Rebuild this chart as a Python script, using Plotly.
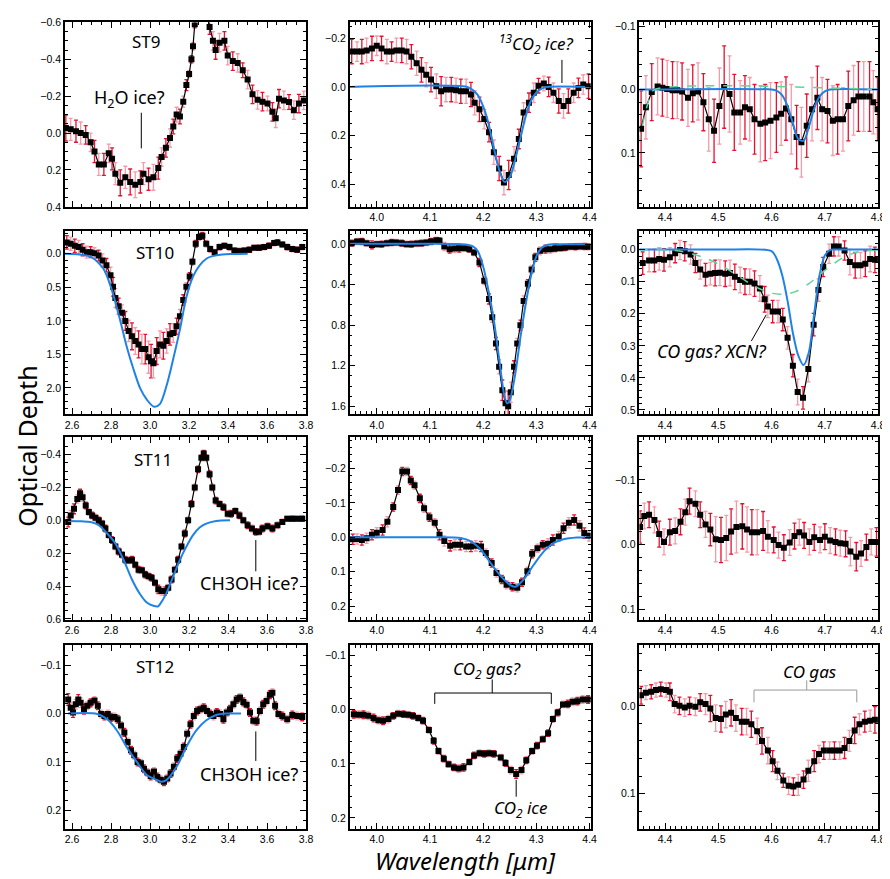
import plotly.graph_objects as go
from plotly.subplots import make_subplots

# ---------------- data: ST9 ----------------
st9_h2o_x = [2.568, 2.593, 2.62, 2.644, 2.67, 2.695, 2.715, 2.737, 2.763, 2.788, 2.805, 2.822, 2.847, 2.873, 2.898,
             2.924, 2.95, 2.966, 2.992, 3.017, 3.042, 3.059, 3.081, 3.102, 3.119, 3.136, 3.153, 3.17, 3.186, 3.2,
             3.212, 3.22, 3.229, 3.245, 3.265, 3.285, 3.305, 3.322, 3.336, 3.356, 3.381, 3.398, 3.424, 3.449, 3.475,
             3.5, 3.525, 3.551, 3.576, 3.602, 3.627, 3.644, 3.661, 3.686, 3.712, 3.737, 3.763, 3.788]
st9_h2o_tau = [-0.027, -0.02, -0.01, 0.0, 0.01, 0.05, 0.1, 0.17, 0.17, 0.11, 0.14, 0.22, 0.27, 0.24, 0.265,
               0.28, 0.265, 0.22, 0.25, 0.24, 0.19, 0.13, 0.08, 0.027, -0.035, -0.1, -0.09, -0.17, -0.26, -0.32,
               -0.4, -0.47, -0.59, -0.7, -0.74, -0.68, -0.575, -0.5, -0.45, -0.49, -0.5, -0.42, -0.39, -0.38, -0.34,
               -0.29, -0.21, -0.18, -0.17, -0.16, -0.115, -0.08, -0.186, -0.177, -0.168, -0.124, -0.16, -0.177]
st9_h2o_err = [0.07, 0.06, 0.06, 0.06, 0.05, 0.05, 0.06, 0.06, 0.06, 0.05, 0.06, 0.06, 0.07, 0.06, 0.07,
               0.07, 0.06, 0.06, 0.06, 0.07, 0.06, 0.05, 0.05, 0.05, 0.04, 0.04, 0.04, 0.03, 0.03, 0.02,
               0.02, 0.02, 0.02, 0.02, 0.02, 0.02, 0.04, 0.05, 0.05, 0.05, 0.05, 0.05, 0.05, 0.05, 0.04,
               0.05, 0.05, 0.05, 0.05, 0.04, 0.05, 0.05, 0.05, 0.05, 0.04, 0.05, 0.05, 0.05]

st9_co2_x = [3.953, 3.963, 3.972, 3.981, 3.991, 4.0, 4.009, 4.019, 4.028, 4.037, 4.047, 4.056, 4.065, 4.075, 4.084,
             4.093, 4.102, 4.112, 4.121, 4.13, 4.14, 4.149, 4.158, 4.168, 4.177, 4.184, 4.193, 4.202, 4.211, 4.22,
             4.23, 4.239, 4.248, 4.258, 4.267, 4.276, 4.286, 4.295, 4.304, 4.314, 4.323, 4.332, 4.342, 4.351, 4.36,
             4.37, 4.379, 4.388, 4.398]
st9_co2_tau = [-0.145, -0.145, -0.145, -0.15, -0.158, -0.169, -0.158, -0.145, -0.145, -0.15, -0.15, -0.145, -0.124,
               -0.097, -0.07, -0.05, -0.03, -0.003, 0.018, 0.011, 0.011, 0.014, 0.018, 0.018, 0.031, 0.065, 0.092,
               0.132, 0.186, 0.268, 0.335, 0.393, 0.362, 0.295, 0.214, 0.105, 0.065, 0.024, -0.005, -0.014, 0.0,
               0.024, 0.058, 0.078, 0.058, 0.024, 0.004, -0.01, -0.003]
st9_co2_err = [0.05, 0.04, 0.05, 0.05, 0.05, 0.04, 0.05, 0.05, 0.04, 0.05, 0.05, 0.05, 0.05, 0.05, 0.05,
               0.05, 0.05, 0.05, 0.06, 0.05, 0.05, 0.05, 0.05, 0.05, 0.05, 0.05, 0.05, 0.04, 0.04, 0.05,
               0.05, 0.05, 0.06, 0.05, 0.04, 0.04, 0.04, 0.04, 0.03, 0.03, 0.04, 0.04, 0.05, 0.05, 0.05,
               0.04, 0.04, 0.04, 0.05]
st9_co2_fit_x = [3.95, 4.17, 4.18, 4.19, 4.2, 4.21, 4.22, 4.23, 4.24, 4.25, 4.26, 4.27, 4.28, 4.29, 4.3, 4.31, 4.32, 4.4]
st9_co2_fit = [0.0, 0.0, 0.012, 0.034, 0.08, 0.15, 0.25, 0.34, 0.39, 0.37, 0.3, 0.21, 0.12, 0.057, 0.023, 0.007, 0.0, 0.0]

st9_co_x = [4.355, 4.364, 4.375, 4.386, 4.395, 4.404, 4.414, 4.423, 4.432, 4.443, 4.452, 4.462, 4.472, 4.482, 4.492,
            4.502, 4.511, 4.521, 4.53, 4.541, 4.55, 4.559, 4.568, 4.579, 4.588, 4.598, 4.609, 4.618, 4.627, 4.637,
            4.647, 4.656, 4.666, 4.676, 4.686, 4.695, 4.705, 4.715, 4.724, 4.734, 4.744, 4.754, 4.763, 4.773, 4.784,
            4.791, 4.799]
st9_co_tau = [0.062, 0.028, 0.004, -0.005, -0.003, -0.001, 0.001, 0.001, 0.003, 0.013, 0.006, 0.003, 0.02, 0.047,
              0.065, 0.026, -0.004, 0.007, 0.036, 0.036, 0.028, 0.031, 0.047, 0.054, 0.052, 0.049, 0.044, 0.038,
              0.03, 0.047, 0.075, 0.083, 0.057, 0.031, 0.013, 0.031, 0.034, 0.049, 0.047, 0.047, 0.026, 0.017,
              0.011, 0.011, 0.011, 0.02, 0.031]
st9_co_err = [0.06, 0.05, 0.045, 0.045, 0.045, 0.045, 0.045, 0.045, 0.045, 0.045, 0.045, 0.045, 0.045, 0.05, 0.05,
              0.06, 0.065, 0.06, 0.06, 0.05, 0.05, 0.05, 0.055, 0.06, 0.06, 0.06, 0.055, 0.05, 0.05, 0.055,
              0.05, 0.055, 0.05, 0.05, 0.05, 0.05, 0.05, 0.055, 0.055, 0.05, 0.055, 0.055, 0.055, 0.055, 0.055,
              0.05, 0.05]
st9_co_fit_x = [4.35, 4.6, 4.61, 4.62, 4.63, 4.64, 4.65, 4.66, 4.67, 4.68, 4.69, 4.7, 4.71, 4.8]
st9_co_fit = [0.0, 0.0, 0.002, 0.009, 0.026, 0.053, 0.078, 0.081, 0.059, 0.03, 0.011, 0.003, 0.0, 0.0]
st9_broad_x = [4.35, 4.358, 4.365, 4.372, 4.38, 4.8]
st9_broad = [0.085, 0.055, 0.03, 0.01, 0.0, 0.0]

# ---------------- data: ST10 ----------------
st10_h2o_x = [2.573, 2.593, 2.614, 2.634, 2.654, 2.675, 2.695, 2.715, 2.736, 2.756, 2.776, 2.797, 2.81, 2.822, 2.839,
              2.856, 2.873, 2.89, 2.907, 2.924, 2.941, 2.958, 2.975, 2.992, 3.005, 3.017, 3.034, 3.051, 3.068, 3.085,
              3.102, 3.119, 3.136, 3.153, 3.17, 3.186, 3.203, 3.217, 3.234, 3.251, 3.268, 3.288, 3.308, 3.331, 3.356,
              3.381, 3.407, 3.432, 3.458, 3.483, 3.508, 3.534, 3.559, 3.585, 3.61, 3.636, 3.653, 3.678, 3.703, 3.729,
              3.754, 3.78]
st10_h2o_tau = [-0.17, -0.15, -0.12, -0.1, -0.06, -0.025, -0.025, -0.01, 0.025, 0.1, 0.17, 0.32, 0.49, 0.66, 0.78,
                0.88, 1.0, 1.15, 1.23, 1.3, 1.35, 1.42, 1.42, 1.54, 1.6, 1.63, 1.45, 1.35, 1.37, 1.3,
                1.2, 1.18, 1.08, 0.93, 0.69, 0.49, 0.34, 0.12, -0.15, -0.25, -0.27, -0.15, -0.07, -0.025, -0.1,
                -0.12, -0.1, -0.05, -0.04, -0.05, -0.06, -0.09, -0.09, -0.1, -0.12, -0.16, -0.17, -0.14, -0.1, -0.07,
                -0.06, -0.1]
st10_h2o_err = [0.1, 0.1, 0.1, 0.1, 0.09, 0.09, 0.08, 0.08, 0.08, 0.1, 0.1, 0.12, 0.14, 0.14, 0.12,
                0.12, 0.14, 0.16, 0.2, 0.2, 0.2, 0.22, 0.22, 0.24, 0.25, 0.22, 0.2, 0.2, 0.2, 0.18,
                0.16, 0.14, 0.12, 0.1, 0.08, 0.06, 0.06, 0.05, 0.05, 0.05, 0.05, 0.05, 0.04, 0.04, 0.04,
                0.04, 0.04, 0.04, 0.04, 0.04, 0.04, 0.04, 0.04, 0.04, 0.04, 0.04, 0.04, 0.04, 0.04, 0.04,
                0.04, 0.04]
st10_h2o_fit_x = [2.56, 2.6, 2.64, 2.68, 2.71, 2.73, 2.76, 2.78, 2.81, 2.85, 2.88, 2.915, 2.95, 2.985, 3.02, 3.05,
                  3.085, 3.12, 3.155, 3.185, 3.22, 3.255, 3.29, 3.32, 3.37, 3.42, 3.5]
st10_h2o_fit = [0.0, 0.003, 0.01, 0.03, 0.07, 0.12, 0.22, 0.34, 0.6, 1.03, 1.38, 1.72, 2.01, 2.18, 2.28, 2.24,
                1.96, 1.55, 1.1, 0.66, 0.34, 0.17, 0.07, 0.035, 0.01, 0.003, 0.0]

st10_co2_x = [3.953, 3.963, 3.972, 3.981, 3.991, 4.0, 4.009, 4.019, 4.028, 4.037, 4.047, 4.056, 4.065, 4.075, 4.084,
              4.093, 4.102, 4.112, 4.118, 4.127, 4.137, 4.146, 4.155, 4.165, 4.174, 4.183, 4.193, 4.202, 4.211, 4.217,
              4.224, 4.23, 4.236, 4.242, 4.247, 4.252, 4.258, 4.264, 4.27, 4.276, 4.284, 4.291, 4.298, 4.307, 4.317,
              4.326, 4.335, 4.345, 4.354, 4.363, 4.373, 4.382, 4.391, 4.399]
st10_co2_tau = [-0.01, -0.026, -0.026, -0.01, 0.007, 0.0, 0.0, -0.01, -0.016, -0.016, -0.01, 0.0, 0.0, -0.007, -0.01,
                -0.016, -0.026, -0.039, -0.033, 0.023, 0.049, 0.043, 0.039, 0.039, 0.049, 0.082, 0.18, 0.36, 0.54,
                0.72, 0.98, 1.21, 1.44, 1.57, 1.6, 1.46, 1.21, 0.98, 0.8, 0.56, 0.39, 0.25, 0.13, 0.066, 0.049,
                0.049, 0.043, 0.039, 0.033, 0.026, 0.026, 0.023, 0.023, 0.026]
st10_co2_err = [0.03, 0.03, 0.03, 0.03, 0.04, 0.03, 0.03, 0.03, 0.03, 0.03, 0.03, 0.03, 0.03, 0.03, 0.03,
                0.03, 0.03, 0.03, 0.03, 0.04, 0.04, 0.04, 0.04, 0.03, 0.03, 0.03, 0.04, 0.04, 0.05, 0.05,
                0.06, 0.07, 0.1, 0.12, 0.15, 0.1, 0.06, 0.05, 0.05, 0.05, 0.04, 0.04, 0.04, 0.04, 0.04,
                0.04, 0.03, 0.03, 0.03, 0.03, 0.03, 0.03, 0.03, 0.03]
st10_co2_fit_x = [3.95, 4.0, 4.05, 4.1, 4.15, 4.17, 4.18, 4.19, 4.2, 4.21, 4.22, 4.23, 4.24, 4.245, 4.25, 4.26,
                  4.27, 4.28, 4.29, 4.3, 4.31, 4.32, 4.33, 4.35, 4.4]
st10_co2_fit = [-0.005, -0.005, -0.005, -0.005, -0.002, 0.005, 0.02, 0.07, 0.22, 0.46, 0.75, 1.13, 1.5, 1.57, 1.54,
                1.29, 0.92, 0.59, 0.31, 0.12, 0.035, 0.008, 0.0, 0.0, 0.0]

st10_co_x = [4.358, 4.37, 4.38, 4.389, 4.398, 4.409, 4.419, 4.428, 4.437, 4.448, 4.457, 4.466, 4.476, 4.485, 4.494,
             4.503, 4.513, 4.522, 4.531, 4.541, 4.55, 4.559, 4.568, 4.578, 4.587, 4.593, 4.602, 4.612, 4.621, 4.63,
             4.64, 4.649, 4.659, 4.669, 4.679, 4.688, 4.697, 4.708, 4.717, 4.726, 4.737, 4.747, 4.757, 4.767, 4.776,
             4.785, 4.794]
st10_co_tau = [0.042, 0.034, 0.034, 0.029, 0.032, 0.024, 0.011, 0.001, 0.005, 0.015, 0.042, 0.062, 0.078, 0.075,
               0.073, 0.072, 0.075, 0.073, 0.085, 0.095, 0.1, 0.1, 0.106, 0.121, 0.155, 0.177, 0.193, 0.193, 0.218,
               0.275, 0.362, 0.444, 0.462, 0.372, 0.234, 0.126, 0.054, 0.013, -0.01, -0.01, 0.003, 0.039, 0.049,
               0.049, 0.044, 0.029, 0.032]
st10_co_err = [0.035, 0.035, 0.035, 0.035, 0.035, 0.03, 0.03, 0.03, 0.03, 0.03, 0.03, 0.03, 0.035, 0.035, 0.04,
               0.04, 0.04, 0.04, 0.04, 0.04, 0.04, 0.04, 0.04, 0.04, 0.04, 0.035, 0.035, 0.035, 0.035, 0.035,
               0.035, 0.04, 0.035, 0.04, 0.035, 0.035, 0.03, 0.03, 0.03, 0.03, 0.03, 0.04, 0.04, 0.04, 0.04,
               0.04, 0.04]
st10_co_fit_x = [4.35, 4.5, 4.6, 4.61, 4.62, 4.63, 4.64, 4.65, 4.66, 4.67, 4.68, 4.69, 4.7, 4.71, 4.72, 4.8]
st10_co_fit = [0.0, 0.0, 0.005, 0.03, 0.08, 0.16, 0.26, 0.33, 0.36, 0.32, 0.2, 0.08, 0.018, 0.001, 0.0, 0.0]
st10_broad_x = [4.35, 4.42, 4.45, 4.48, 4.51, 4.54, 4.57, 4.6, 4.625, 4.645, 4.67, 4.7, 4.73, 4.76, 4.8]
st10_broad = [0.0, 0.003, 0.013, 0.029, 0.054, 0.085, 0.116, 0.136, 0.139, 0.131, 0.106, 0.065, 0.029, 0.008, 0.001]

# ---------------- data: ST11 ----------------
st11_h2o_x = [2.58, 2.593, 2.61, 2.627, 2.641, 2.654, 2.67, 2.686, 2.703, 2.72, 2.737, 2.754, 2.771, 2.788, 2.805,
              2.822, 2.839, 2.856, 2.873, 2.89, 2.907, 2.924, 2.941, 2.958, 2.975, 2.992, 3.008, 3.025, 3.042, 3.059,
              3.076, 3.093, 3.11, 3.127, 3.144, 3.161, 3.178, 3.195, 3.212, 3.229, 3.246, 3.263, 3.275, 3.288, 3.305,
              3.319, 3.336, 3.356, 3.376, 3.398, 3.415, 3.437, 3.458, 3.478, 3.5, 3.522, 3.542, 3.559, 3.576, 3.602,
              3.627, 3.653, 3.678, 3.703, 3.729, 3.754, 3.78]
st11_h2o_tau = [0.01, -0.03, -0.07, -0.13, -0.164, -0.14, -0.09, -0.05, -0.03, -0.016, 0.0, 0.02, 0.05, 0.09, 0.12,
                0.16, 0.19, 0.21, 0.24, 0.244, 0.24, 0.27, 0.3, 0.304, 0.33, 0.34, 0.35, 0.38, 0.42, 0.43,
                0.43, 0.41, 0.36, 0.3, 0.24, 0.16, 0.08, 0.0, -0.1, -0.2, -0.31, -0.38, -0.406, -0.38, -0.28,
                -0.2, -0.12, -0.1, -0.08, -0.04, -0.04, -0.056, -0.03, 0.0, 0.03, 0.05, 0.07, 0.07, 0.05, 0.036,
                0.05, 0.03, 0.01, -0.01, -0.01, -0.01, -0.01]
st11_h2o_err = [0.03, 0.03, 0.03, 0.025, 0.025, 0.025, 0.02, 0.02, 0.02, 0.02, 0.02, 0.02, 0.02, 0.02, 0.02,
                0.02, 0.02, 0.02, 0.02, 0.02, 0.02, 0.02, 0.02, 0.02, 0.02, 0.02, 0.02, 0.02, 0.025, 0.025,
                0.025, 0.02, 0.02, 0.02, 0.02, 0.02, 0.02, 0.02, 0.02, 0.02, 0.02, 0.02, 0.02, 0.02, 0.02,
                0.02, 0.02, 0.02, 0.02, 0.02, 0.02, 0.02, 0.02, 0.02, 0.02, 0.02, 0.02, 0.02, 0.02, 0.02,
                0.02, 0.02, 0.015, 0.015, 0.015, 0.015, 0.015]
st11_h2o_fit_x = [2.58, 2.65, 2.695, 2.737, 2.78, 2.822, 2.864, 2.907, 2.949, 2.983, 3.017, 3.04, 3.051, 3.085,
                  3.119, 3.153, 3.186, 3.22, 3.254, 3.288, 3.339, 3.41]
st11_h2o_fit = [0.004, 0.006, 0.01, 0.03, 0.08, 0.14, 0.24, 0.36, 0.45, 0.5, 0.52, 0.524, 0.51, 0.44, 0.34, 0.24,
                0.16, 0.09, 0.044, 0.02, 0.004, 0.0]

st11_co2_x = [3.955, 3.963, 3.972, 3.981, 3.991, 4.0, 4.011, 4.02, 4.031, 4.04, 4.048, 4.057, 4.064, 4.071, 4.081,
              4.089, 4.099, 4.109, 4.118, 4.127, 4.138, 4.147, 4.157, 4.168, 4.177, 4.186, 4.196, 4.205, 4.216, 4.225,
              4.235, 4.244, 4.255, 4.264, 4.273, 4.283, 4.292, 4.302, 4.312, 4.322, 4.331, 4.342, 4.351, 4.361, 4.371,
              4.381, 4.39, 4.399]
st11_co2_tau = [0.006, 0.005, 0.008, 0.003, -0.007, -0.013, -0.021, -0.045, -0.088, -0.137, -0.191, -0.191, -0.165,
                -0.151, -0.113, -0.084, -0.058, -0.042, -0.007, 0.011, 0.025, 0.022, 0.022, 0.027, 0.027, 0.025,
                0.027, 0.046, 0.075, 0.104, 0.123, 0.138, 0.144, 0.147, 0.131, 0.099, 0.048, 0.032, 0.022, 0.019,
                0.008, -0.002, -0.026, -0.042, -0.05, -0.033, -0.012, -0.004]
st11_co2_err = [0.015, 0.015, 0.015, 0.015, 0.015, 0.015, 0.015, 0.015, 0.012, 0.012, 0.012, 0.012, 0.012, 0.012,
                0.012, 0.012, 0.012, 0.012, 0.015, 0.015, 0.015, 0.015, 0.015, 0.015, 0.015, 0.015, 0.015, 0.012,
                0.012, 0.012, 0.012, 0.012, 0.012, 0.012, 0.012, 0.012, 0.012, 0.012, 0.012, 0.015, 0.015, 0.015,
                0.015, 0.015, 0.015, 0.015, 0.015, 0.015]
st11_co2_fit_x = [3.95, 4.1, 4.158, 4.177, 4.196, 4.214, 4.233, 4.252, 4.261, 4.276, 4.295, 4.314, 4.332, 4.351,
                  4.376, 4.4]
st11_co2_fit = [0.0, 0.0, 0.002, 0.012, 0.037, 0.075, 0.113, 0.14, 0.144, 0.123, 0.08, 0.041, 0.017, 0.006, 0.001, 0.0]

st11_co_x = [4.353, 4.361, 4.37, 4.38, 4.389, 4.398, 4.409, 4.419, 4.429, 4.438, 4.446, 4.457, 4.466, 4.476, 4.485,
             4.495, 4.505, 4.515, 4.524, 4.534, 4.545, 4.554, 4.563, 4.573, 4.584, 4.593, 4.604, 4.613, 4.623, 4.634,
             4.643, 4.652, 4.661, 4.671, 4.68, 4.691, 4.7, 4.71, 4.72, 4.729, 4.739, 4.748, 4.759, 4.768, 4.778,
             4.787, 4.797]
st11_co_tau = [-0.027, -0.044, -0.046, -0.038, -0.016, -0.004, -0.019, -0.021, -0.035, -0.05, -0.067, -0.063, -0.046,
               -0.031, -0.023, -0.008, -0.007, -0.01, -0.02, -0.027, -0.028, -0.023, -0.019, -0.019, -0.021, -0.012,
               -0.007, 0.001, 0.005, -0.003, -0.013, -0.019, -0.014, -0.004, -0.011, -0.007, -0.012, -0.006, -0.004,
               -0.002, -0.001, 0.011, 0.019, 0.014, 0.004, -0.004, -0.004]
st11_co_err = [0.025, 0.02, 0.02, 0.02, 0.02, 0.02, 0.02, 0.02, 0.02, 0.02, 0.02, 0.02, 0.02, 0.02, 0.025,
               0.035, 0.035, 0.035, 0.035, 0.04, 0.035, 0.035, 0.035, 0.035, 0.03, 0.025, 0.02, 0.02, 0.02, 0.02,
               0.02, 0.02, 0.02, 0.02, 0.02, 0.02, 0.02, 0.02, 0.02, 0.02, 0.02, 0.022, 0.022, 0.02, 0.02,
               0.02, 0.022]

# ---------------- data: ST12 ----------------
st12_h2o_x = [2.58, 2.593, 2.605, 2.619, 2.632, 2.644, 2.661, 2.678, 2.695, 2.715, 2.732, 2.749, 2.766, 2.783, 2.8,
              2.817, 2.834, 2.851, 2.868, 2.885, 2.902, 2.919, 2.936, 2.953, 2.969, 2.986, 3.003, 3.02, 3.037, 3.054,
              3.071, 3.088, 3.105, 3.122, 3.139, 3.156, 3.173, 3.19, 3.207, 3.224, 3.241, 3.258, 3.275, 3.292, 3.308,
              3.325, 3.342, 3.359, 3.376, 3.393, 3.41, 3.427, 3.444, 3.461, 3.478, 3.495, 3.512, 3.529, 3.546, 3.563,
              3.58, 3.597, 3.614, 3.627, 3.641, 3.658, 3.678, 3.703, 3.729, 3.754, 3.78]
st12_h2o_tau = [-0.029, -0.012, -0.002, -0.019, -0.029, -0.022, -0.009, -0.016, -0.022, -0.027, -0.016, 0.001, 0.005,
                0.001, 0.008, 0.007, 0.012, 0.025, 0.039, 0.059, 0.076, 0.086, 0.1, 0.103, 0.114, 0.122, 0.129, 0.12,
                0.131, 0.137, 0.141, 0.134, 0.124, 0.11, 0.093, 0.083, 0.069, 0.042, 0.022, 0.005, -0.005, -0.009,
                -0.012, -0.005, 0.001, 0.005, -0.002, 0.001, 0.012, -0.002, -0.009, -0.019, -0.029, -0.033, -0.024,
                -0.018, -0.002, 0.015, 0.016, -0.005, -0.019, -0.026, -0.039, -0.043, -0.016, 0.001, 0.005, 0.012,
                0.003, 0.005, 0.007]
st12_h2o_err = [0.012, 0.01, 0.01, 0.01, 0.01, 0.01, 0.01, 0.008, 0.008, 0.008, 0.008, 0.008, 0.008, 0.008, 0.008,
                0.008, 0.008, 0.008, 0.008, 0.008, 0.008, 0.008, 0.008, 0.008, 0.008, 0.008, 0.008, 0.008, 0.008,
                0.008, 0.008, 0.008, 0.008, 0.008, 0.008, 0.008, 0.008, 0.008, 0.008, 0.008, 0.008, 0.008, 0.008,
                0.008, 0.008, 0.008, 0.008, 0.008, 0.008, 0.008, 0.008, 0.008, 0.008, 0.008, 0.008, 0.008, 0.008,
                0.008, 0.008, 0.008, 0.008, 0.008, 0.008, 0.008, 0.008, 0.008, 0.008, 0.008, 0.008, 0.008, 0.008]
st12_h2o_fit_x = [2.58, 2.73, 2.78, 2.83, 2.88, 2.932, 2.983, 3.034, 3.059, 3.085, 3.136, 3.186, 3.237, 3.288, 3.339,
                  3.39, 3.466]
st12_h2o_fit = [0.0, 0.001, 0.012, 0.035, 0.069, 0.1, 0.127, 0.137, 0.141, 0.137, 0.11, 0.069, 0.035, 0.014, 0.003,
                0.0, 0.0]

st12_co2_x = [3.957, 3.966, 3.975, 3.984, 3.994, 4.003, 4.012, 4.022, 4.031, 4.04, 4.05, 4.059, 4.068, 4.078, 4.087,
              4.098, 4.107, 4.116, 4.126, 4.135, 4.145, 4.154, 4.163, 4.174, 4.183, 4.193, 4.202, 4.211, 4.22, 4.233,
              4.242, 4.252, 4.262, 4.272, 4.281, 4.292, 4.301, 4.312, 4.322, 4.331, 4.34, 4.35, 4.359, 4.368, 4.377,
              4.387, 4.397]
st12_co2_tau = [0.009, 0.01, 0.01, 0.012, 0.016, 0.02, 0.021, 0.018, 0.012, 0.008, 0.009, 0.01, 0.012, 0.016, 0.021,
                0.038, 0.058, 0.077, 0.091, 0.101, 0.107, 0.109, 0.107, 0.097, 0.085, 0.081, 0.082, 0.081, 0.082,
                0.089, 0.099, 0.112, 0.119, 0.112, 0.094, 0.077, 0.067, 0.055, 0.044, 0.018, 0.006, -0.009, -0.01,
                -0.014, -0.015, -0.018, -0.018]
st12_co2_err = [0.007, 0.007, 0.007, 0.007, 0.007, 0.007, 0.007, 0.007, 0.006, 0.006, 0.006, 0.006, 0.006, 0.006,
                0.006, 0.006, 0.006, 0.006, 0.006, 0.006, 0.006, 0.007, 0.007, 0.006, 0.006, 0.006, 0.006, 0.006,
                0.006, 0.006, 0.006, 0.007, 0.008, 0.007, 0.006, 0.006, 0.006, 0.006, 0.006, 0.006, 0.006, 0.006,
                0.007, 0.007, 0.007, 0.007, 0.007]

st12_co_x = [4.355, 4.364, 4.374, 4.383, 4.392, 4.402, 4.409, 4.418, 4.427, 4.437, 4.446, 4.457, 4.466, 4.476, 4.485,
             4.495, 4.505, 4.514, 4.524, 4.533, 4.544, 4.553, 4.562, 4.573, 4.582, 4.593, 4.602, 4.611, 4.622, 4.632,
             4.641, 4.65, 4.66, 4.669, 4.68, 4.689, 4.698, 4.709, 4.718, 4.728, 4.737, 4.746, 4.756, 4.765, 4.775,
             4.785, 4.794]
st12_co_tau = [-0.012, -0.015, -0.016, -0.018, -0.019, -0.018, -0.016, -0.002, 0.0, 0.002, 0.0, 0.001, -0.004, -0.002,
               0.003, 0.014, 0.015, 0.01, 0.008, 0.014, 0.018, 0.018, 0.021, 0.029, 0.04, 0.051, 0.063, 0.074, 0.085,
               0.091, 0.092, 0.09, 0.084, 0.074, 0.063, 0.055, 0.051, 0.051, 0.051, 0.051, 0.048, 0.04, 0.028, 0.021,
               0.018, 0.017, 0.016]
st12_co_err = [0.01, 0.008, 0.008, 0.008, 0.008, 0.008, 0.01, 0.01, 0.01, 0.01, 0.01, 0.01, 0.01, 0.012, 0.015,
               0.015, 0.015, 0.015, 0.015, 0.015, 0.015, 0.015, 0.015, 0.015, 0.015, 0.015, 0.012, 0.01, 0.008, 0.01,
               0.01, 0.012, 0.01, 0.012, 0.012, 0.01, 0.01, 0.01, 0.01, 0.01, 0.012, 0.012, 0.015, 0.012, 0.012,
               0.012, 0.015]

source_names = ["ST9", "ST10", "ST11", "ST12"]

RED = "#e8102f"
PINK = "#f59aa8"
BLUE = "#1f82e6"
GREEN = "#5fd39a"
FONT = "Noto Sans"
TICKFONT = dict(family="Liberation Sans", size=10.5, color="black")

# panel frames in pixels (left, right) / (top, bottom) in a 890x879 page
W, H = 890, 879
col_px = [(57.3, 300.5), (344.3, 587.3), (636.5, 877.0)]
row_px = [(8.5, 195.5), (220.0, 405.7), (429.0, 614.5), (640.0, 826.0)]
x_ranges = [[2.563, 3.8], [3.949, 4.402], [4.352, 4.8]]
x_dtick = [0.2, 0.1, 0.1]
x_minor = [0.05, 0.01, 0.01]
y_ranges = [[[0.4, -0.6], [0.4925, -0.265], [0.185, -0.106]],
            [[2.39, -0.34], [1.677, -0.13], [0.513, -0.058]],
            [[0.607, -0.506], [0.241, -0.291], [0.117, -0.166]],
            [[0.238, -0.141], [0.22, -0.118], [0.14, -0.069]]]
y_dtick = [[0.2, 0.2, 0.1], [0.5, 0.4, 0.1], [0.2, 0.1, 0.1], [0.1, 0.1, 0.1]]
y_minor = [[0.05, 0.05, 0.02], [0.1, 0.1, 0.02], [0.05, 0.02, 0.02], [0.02, 0.02, 0.02]]

fig = make_subplots(rows=4, cols=3)


def add_panel(row, col, x, y, err, fit_x=None, fit=None, broad_x=None, broad=None):
    # alternate red / pink error bars like the original
    for sl, colr in ((slice(0, None, 2), RED), (slice(1, None, 2), PINK)):
        fig.add_trace(go.Scatter(x=x[sl], y=y[sl], mode="markers",
                                 marker=dict(size=1, color="rgba(0,0,0,0)"),
                                 error_y=dict(type="data", array=err[sl], color=colr, thickness=1.3, width=2),
                                 showlegend=False, hoverinfo="skip"), row=row, col=col)
    fig.add_trace(go.Scatter(x=x, y=y, mode="lines+markers",
                             line=dict(color="black", width=1.2),
                             marker=dict(symbol="square", size=6, color="black"),
                             showlegend=False), row=row, col=col)
    if fit is not None:
        fig.add_trace(go.Scatter(x=fit_x, y=fit, mode="lines",
                                 line=dict(color=BLUE, width=2, shape="spline", smoothing=0.8),
                                 showlegend=False), row=row, col=col)
    if broad is not None:
        fig.add_trace(go.Scatter(x=broad_x, y=broad, mode="lines",
                                 line=dict(color=GREEN, width=1.5, dash="dash", shape="spline", smoothing=0.8),
                                 showlegend=False), row=row, col=col)


# zero reference lines (drawn first, below the data)
for r, c, colr, wd in [(1, 2, "black", 1), (1, 3, "black", 1), (2, 3, "black", 1), (3, 3, "black", 1.2),
                       (4, 2, BLUE, 2), (4, 3, BLUE, 3)]:
    fig.add_hline(y=0, row=r, col=c, line=dict(color=colr, width=wd), layer="below")

add_panel(1, 1, st9_h2o_x, st9_h2o_tau, st9_h2o_err)
add_panel(1, 2, st9_co2_x, st9_co2_tau, st9_co2_err, st9_co2_fit_x, st9_co2_fit)
add_panel(1, 3, st9_co_x, st9_co_tau, st9_co_err, st9_co_fit_x, st9_co_fit, st9_broad_x, st9_broad)
add_panel(2, 1, st10_h2o_x, st10_h2o_tau, st10_h2o_err, st10_h2o_fit_x, st10_h2o_fit)
add_panel(2, 2, st10_co2_x, st10_co2_tau, st10_co2_err, st10_co2_fit_x, st10_co2_fit)
add_panel(2, 3, st10_co_x, st10_co_tau, st10_co_err, st10_co_fit_x, st10_co_fit, st10_broad_x, st10_broad)
add_panel(3, 1, st11_h2o_x, st11_h2o_tau, st11_h2o_err, st11_h2o_fit_x, st11_h2o_fit)
add_panel(3, 2, st11_co2_x, st11_co2_tau, st11_co2_err, st11_co2_fit_x, st11_co2_fit)
add_panel(3, 3, st11_co_x, st11_co_tau, st11_co_err)
add_panel(4, 1, st12_h2o_x, st12_h2o_tau, st12_h2o_err, st12_h2o_fit_x, st12_h2o_fit)
add_panel(4, 2, st12_co2_x, st12_co2_tau, st12_co2_err)
add_panel(4, 3, st12_co_x, st12_co_tau, st12_co_err)

axis_common = dict(showline=True, linecolor="black", linewidth=1.5, mirror="allticks",
                   ticks="inside", ticklen=6, tickwidth=1, tickcolor="black",
                   showgrid=False, zeroline=False, tickfont=TICKFONT, tickformat=".1f")

for r in range(4):
    for c in range(3):
        fig.update_xaxes(domain=[col_px[c][0] / W, col_px[c][1] / W], range=x_ranges[c],
                         dtick=x_dtick[c], tick0=0,
                         minor=dict(ticks="inside", ticklen=3, tickcolor="black", dtick=x_minor[c], tick0=0),
                         showticklabels=not (r == 0 and c == 0),
                         row=r + 1, col=c + 1, **axis_common)
        fig.update_yaxes(domain=[1 - row_px[r][1] / H, 1 - row_px[r][0] / H], range=y_ranges[r][c],
                         dtick=y_dtick[r][c], tick0=0,
                         minor=dict(ticks="inside", ticklen=3, tickcolor="black", dtick=y_minor[r][c], tick0=0),
                         row=r + 1, col=c + 1, **axis_common)


def ax(r, c):
    n = (r - 1) * 3 + c
    return ("x" if n == 1 else f"x{n}"), ("y" if n == 1 else f"y{n}")


annotations = []


def label(r, c, x, y, text, size=17):
    xr, yr = ax(r, c)
    annotations.append(dict(x=x, y=y, xref=xr, yref=yr, text=text, showarrow=False,
                            xanchor="center", yanchor="middle",
                            font=dict(family=FONT, size=size, color="black")))


def seg(r, c, x0, y0, x1, y1, color="black"):
    xr, yr = ax(r, c)
    fig.add_shape(type="line", x0=x0, y0=y0, x1=x1, y1=y1, xref=xr, yref=yr,
                  line=dict(color=color, width=1))


# source names
label(1, 1, 2.983, -0.497, source_names[0])
label(2, 1, 3.024, -0.02, source_names[1])
label(3, 1, 3.017, -0.37, source_names[2])
label(4, 1, 3.026, -0.097, source_names[3])

# feature labels
label(1, 1, 2.892, -0.186, "H<sub>2</sub>O ice?", 18)
seg(1, 1, 2.955, -0.11, 2.955, 0.083)

label(1, 2, 4.301, -0.178, "<i><sup>13</sup>CO<sub>2</sub> ice?</i>", 17)
seg(1, 2, 4.348, -0.111, 4.348, -0.016)

label(2, 3, 4.488, 0.316, "<i>CO gas? XCN?</i>", 18)
seg(2, 3, 4.562, 0.285, 4.59, 0.203)

label(3, 1, 3.508, 0.38, "CH3OH ice?", 18)
seg(3, 1, 3.542, 0.12, 3.542, 0.31)

label(4, 1, 3.508, 0.124, "CH3OH ice?", 18)
seg(4, 1, 3.542, 0.037, 3.542, 0.098)

label(4, 2, 4.208, -0.073, "<i>CO<sub>2</sub> gas?</i>", 17)
seg(4, 2, 4.109, -0.030, 4.328, -0.030)
seg(4, 2, 4.109, -0.030, 4.109, -0.010)
seg(4, 2, 4.328, -0.030, 4.328, -0.010)
seg(4, 2, 4.217, -0.030, 4.217, -0.055)

label(4, 2, 4.27, 0.182, "<i>CO<sub>2</sub> ice</i>", 17)
seg(4, 2, 4.262, 0.130, 4.262, 0.161)

label(4, 3, 4.671, -0.0386, "<i>CO gas</i>", 17)
seg(4, 3, 4.567, -0.018, 4.76, -0.018, "#999999")
seg(4, 3, 4.567, -0.018, 4.567, -0.004, "#999999")
seg(4, 3, 4.76, -0.018, 4.76, -0.004, "#999999")
seg(4, 3, 4.666, -0.018, 4.666, -0.029, "#999999")

# global axis titles
annotations.append(dict(x=19 / W, y=1 - 438 / H, xref="paper", yref="paper", text="Optical Depth",
                        textangle=-90, showarrow=False, xanchor="center", yanchor="middle",
                        font=dict(family=FONT, size=25, color="black")))
annotations.append(dict(x=461 / W, y=1 - 858 / H, xref="paper", yref="paper", text="<i>Wavelength [μm]</i>",
                        showarrow=False, xanchor="center", yanchor="middle",
                        font=dict(family=FONT, size=24, color="black")))

fig.update_layout(width=W, height=H, margin=dict(l=0, r=0, t=0, b=0),
                  paper_bgcolor="white", plot_bgcolor="white",
                  showlegend=False, annotations=annotations)

fig.write_html("out.html")
